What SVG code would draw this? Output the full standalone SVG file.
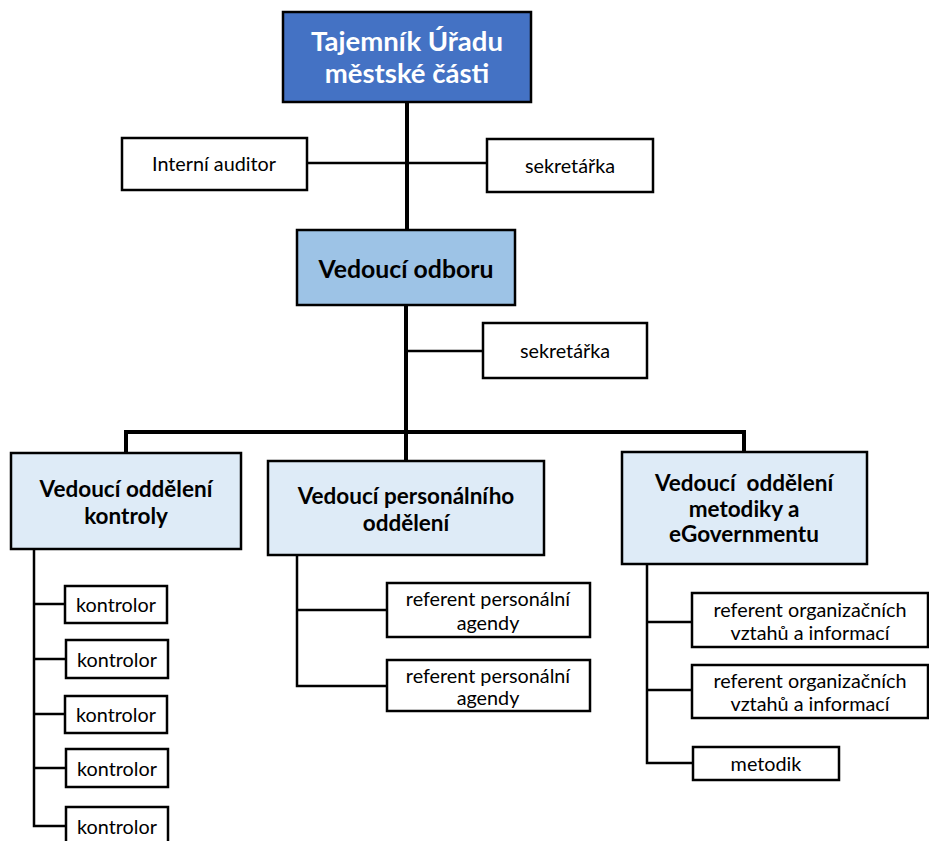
<svg xmlns="http://www.w3.org/2000/svg" width="929" height="841" viewBox="0 0 929 841">
<style>
  .box { stroke: #000; stroke-width: 2.5; }
  .w { fill: #fff; }
  .dark { fill: #4472C4; }
  .mid { fill: #9DC3E6; }
  .light { fill: #DEEBF7; }
  text { font-family: Lato, "Liberation Sans", sans-serif; text-anchor: middle; dominant-baseline: central; fill: #000; }
  .t { font-size: 19.8px; }
  .b { font-size: 22.5px; font-weight: bold; }
  .bb { font-size: 24.8px; font-weight: bold; }
  .top { font-size: 27.5px; font-weight: bold; fill: #fff; }
  .thick { stroke: #000; stroke-width: 4; fill: none; }
  .thin { stroke: #000; stroke-width: 2.5; fill: none; }
</style>
<g id="connectors">
  <line class="thick" x1="407" y1="102" x2="407" y2="230"/>
  <line class="thick" x1="406" y1="305" x2="406" y2="432"/>
  <polyline class="thick" points="126,453 126,432 744,432 744,452"/>
  <line class="thick" x1="406" y1="432" x2="406" y2="461"/>
  <line class="thin" x1="307" y1="163" x2="407" y2="163"/>
  <line class="thin" x1="407" y1="163" x2="487" y2="163"/>
  <line class="thin" x1="406" y1="351" x2="483" y2="351"/>
  <polyline class="thin" points="34,549 34,826 66,826"/>
  <line class="thin" x1="34" y1="604" x2="65" y2="604"/>
  <line class="thin" x1="34" y1="659" x2="66" y2="659"/>
  <line class="thin" x1="34" y1="714" x2="65" y2="714"/>
  <line class="thin" x1="34" y1="768" x2="66" y2="768"/>
  <polyline class="thin" points="297,555 297,686 387,686"/>
  <line class="thin" x1="297" y1="610" x2="387" y2="610"/>
  <polyline class="thin" points="647,564 647,763 693,763"/>
  <line class="thin" x1="647" y1="622" x2="692" y2="622"/>
  <line class="thin" x1="647" y1="690" x2="692" y2="690"/>
</g>
<g id="tajemnik">
  <rect class="box dark" x="283" y="12" width="248" height="90"/>
  <text class="top" x="407" y="40">Tajemník Úřadu</text>
  <text class="top" x="407" y="72">městské části</text>
</g>
<g id="auditor">
  <rect class="box w" x="122" y="138" width="185" height="52"/>
  <text class="t" x="214" y="163">Interní auditor</text>
</g>
<g id="sekretarka1">
  <rect class="box w" x="487" y="139" width="166" height="53"/>
  <text class="t" x="570" y="165">sekretářka</text>
</g>
<g id="vedouci-odboru">
  <rect class="box mid" x="297" y="230" width="218" height="75"/>
  <text class="bb" x="406" y="268">Vedoucí odboru</text>
</g>
<g id="sekretarka2">
  <rect class="box w" x="483" y="323" width="164" height="55"/>
  <text class="t" x="565" y="350">sekretářka</text>
</g>
<g id="kontroly">
  <rect class="box light" x="11" y="453" width="230" height="96"/>
  <text class="b" x="126" y="488">Vedoucí oddělení</text>
  <text class="b" x="126" y="515">kontroly</text>
</g>
<g id="personalni">
  <rect class="box light" x="268" y="461" width="276" height="94"/>
  <text class="b" x="406" y="495">Vedoucí personálního</text>
  <text class="b" x="406" y="522">oddělení</text>
</g>
<g id="metodiky">
  <rect class="box light" x="622" y="452" width="245" height="112"/>
  <text class="b" x="744" y="482" xml:space="preserve">Vedoucí  oddělení</text>
  <text class="b" x="744" y="508">metodiky a</text>
  <text class="b" x="744" y="533">eGovernmentu</text>
</g>
<g id="kontrolor1">
  <rect class="box w" x="65" y="586" width="102" height="37"/>
  <text class="t" x="116" y="604">kontrolor</text>
</g>
<g id="kontrolor2">
  <rect class="box w" x="66" y="640" width="102" height="38"/>
  <text class="t" x="117" y="659">kontrolor</text>
</g>
<g id="kontrolor3">
  <rect class="box w" x="65" y="696" width="102" height="37"/>
  <text class="t" x="116" y="714">kontrolor</text>
</g>
<g id="kontrolor4">
  <rect class="box w" x="66" y="749" width="102" height="38"/>
  <text class="t" x="117" y="768">kontrolor</text>
</g>
<g id="kontrolor5">
  <rect class="box w" x="66" y="807" width="102" height="40"/>
  <text class="t" x="117" y="826">kontrolor</text>
</g>
<g id="ref-personal1">
  <rect class="box w" x="387" y="583" width="203" height="54"/>
  <text class="t" x="488" y="598">referent personální</text>
  <text class="t" x="488" y="622">agendy</text>
</g>
<g id="ref-personal2">
  <rect class="box w" x="387" y="660" width="203" height="51"/>
  <text class="t" x="488" y="675">referent personální</text>
  <text class="t" x="488" y="697">agendy</text>
</g>
<g id="ref-org1">
  <rect class="box w" x="692" y="593" width="236" height="54"/>
  <text class="t" x="810" y="609">referent organizačních</text>
  <text class="t" x="810" y="632">vztahů a informací</text>
</g>
<g id="ref-org2">
  <rect class="box w" x="692" y="665" width="236" height="53"/>
  <text class="t" x="810" y="680">referent organizačních</text>
  <text class="t" x="810" y="703">vztahů a informací</text>
</g>
<g id="metodik">
  <rect class="box w" x="693" y="747" width="146" height="33"/>
  <text class="t" x="766" y="763">metodik</text>
</g>
</svg>
